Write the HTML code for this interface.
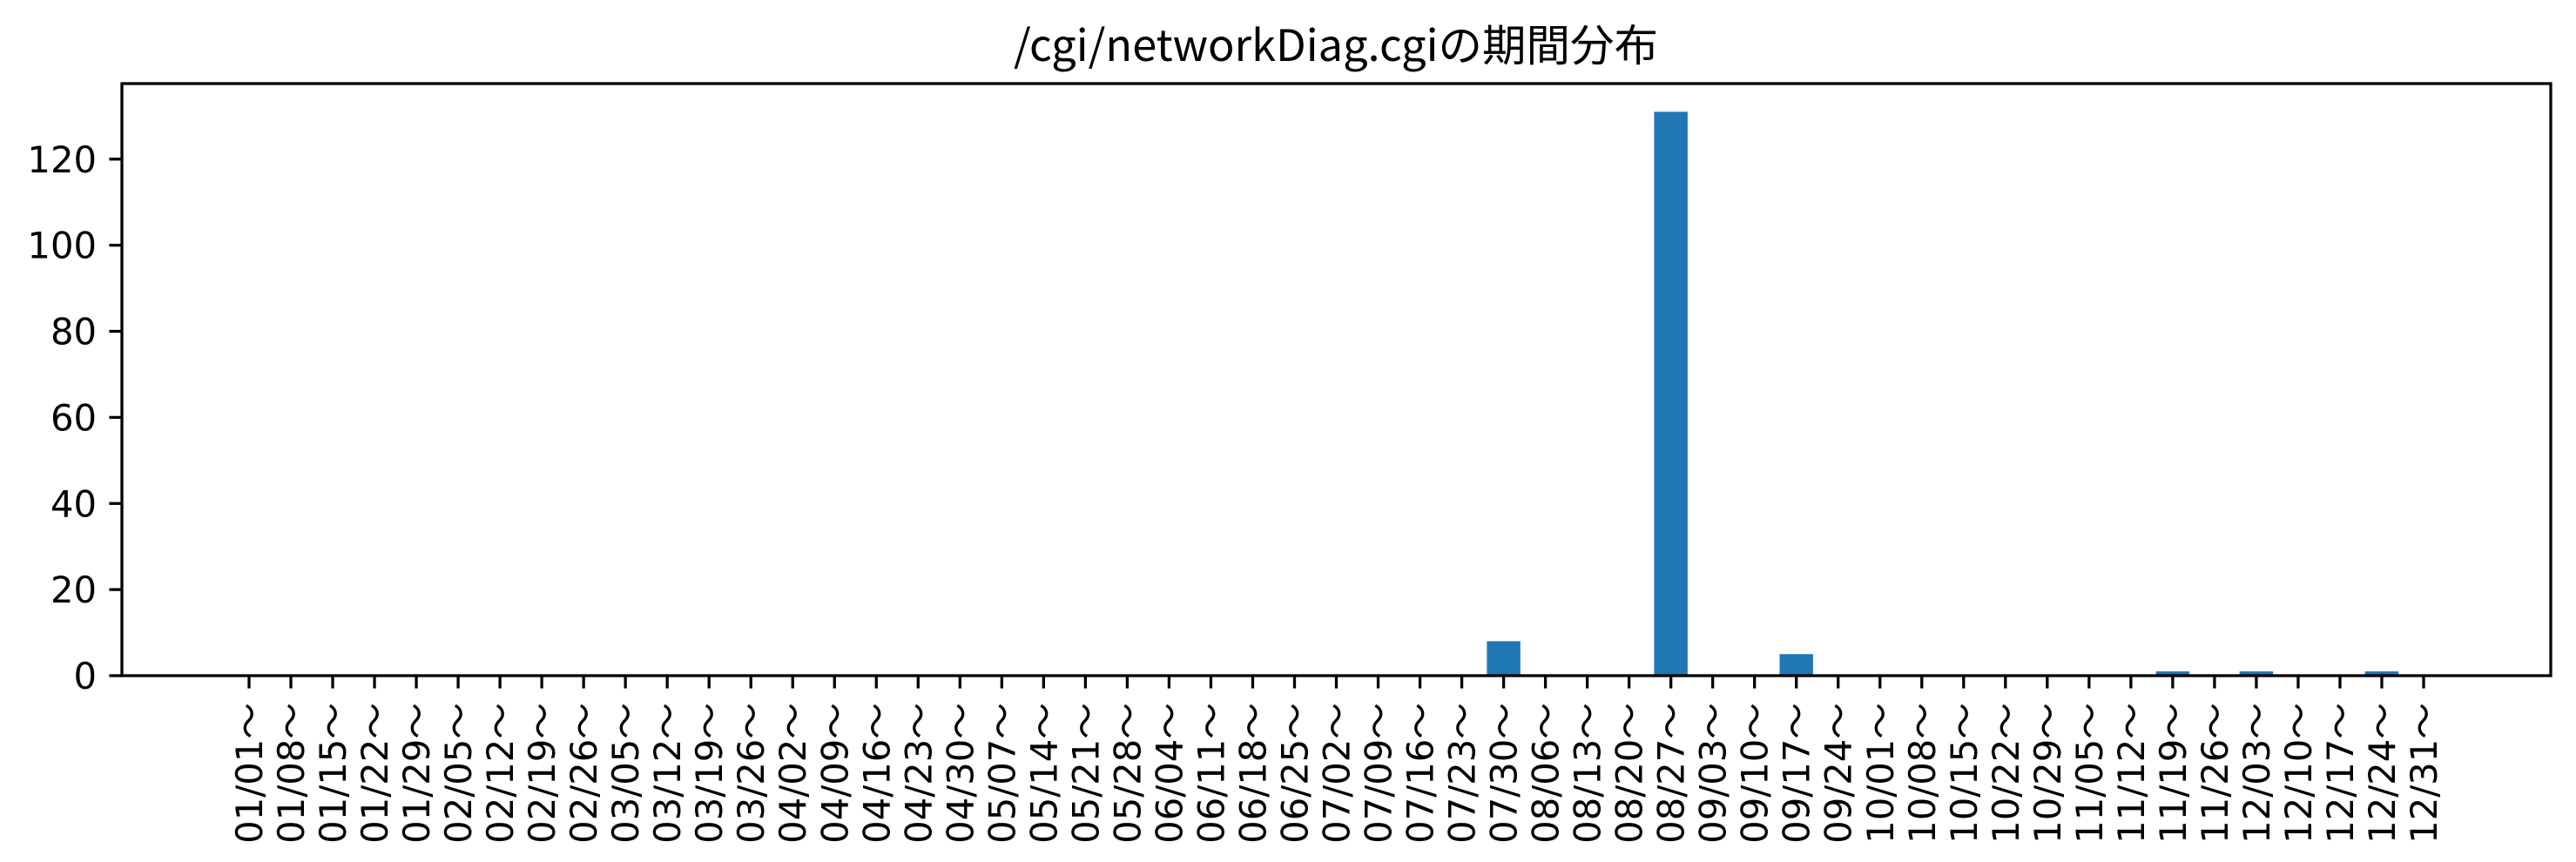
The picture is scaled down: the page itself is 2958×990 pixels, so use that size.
<!DOCTYPE html>
<html><head><meta charset="utf-8"><style>body{margin:0;background:#fff}svg{display:block}</style></head>
<body>
<svg id="chart" width="2958" height="990" xmlns="http://www.w3.org/2000/svg">
<rect width="2958" height="990" fill="#fff"/>
<text x="1534" y="70" text-anchor="middle" font-size="50" textLength="740" lengthAdjust="spacingAndGlyphs" font-family="'Noto Sans CJK JP', sans-serif" fill="#000">/cgi/networkDiag.cgiの期間分布</text>
<g id="bars"></g>
<g id="yaxis"></g>
<g id="xaxis"></g>
<rect x="140" y="96" width="2789" height="680" fill="none" stroke="#000" stroke-width="3.3"/>
</svg>
<script>
const categories = ["01/01","01/08","01/15","01/22","01/29","02/05","02/12","02/19","02/26","03/05","03/12","03/19","03/26","04/02","04/09","04/16","04/23","04/30","05/07","05/14","05/21","05/28","06/04","06/11","06/18","06/25","07/02","07/09","07/16","07/23","07/30","08/06","08/13","08/20","08/27","09/03","09/10","09/17","09/24","10/01","10/08","10/15","10/22","10/29","11/05","11/12","11/19","11/26","12/03","12/10","12/17","12/24","12/31"];
const counts = [0,0,0,0,0,0,0,0,0,0,0,0,0,0,0,0,0,0,0,0,0,0,0,0,0,0,0,0,0,0,8,0,0,0,131,0,0,5,0,0,0,0,0,0,0,0,1,0,1,0,0,1,0];
const yTicks = [0,20,40,60,80,100,120];

const NS = "http://www.w3.org/2000/svg";
const L = 140, R = 2929, T = 96, B = 776;
const n = categories.length;
const xmin = -0.4 - 0.05 * (n - 1 + 0.8), xmax = (n - 1) + 0.4 + 0.05 * (n - 1 + 0.8);
const maxV = Math.max(...counts);
const ymax = maxV * 1.05;
function x(i) { return L + (i - xmin) / (xmax - xmin) * (R - L); }
function y(v) { return B - v / ymax * (B - T); }
function mk(tag, attrs) { const e = document.createElementNS(NS, tag); for (const k in attrs) e.setAttribute(k, attrs[k]); return e; }

const bars = document.getElementById('bars');
counts.forEach((v, i) => {
  const bw = x(0.8) - x(0);
  const r = mk('rect', { x: x(i) - bw / 2, y: y(v), width: bw, height: B - y(v), fill: '#1f77b4' });
  
  
  bars.appendChild(r);
});

const ya = document.getElementById('yaxis');
yTicks.forEach(t => {
  const ln = mk('line', { x1: L - 14.6, x2: L, y1: y(t), y2: y(t), stroke: '#000', 'stroke-width': 3.3 });
  
  
  ya.appendChild(ln);
  const tx = mk('text', { x: L - 29, y: y(t) + 15, 'text-anchor': 'end', 'font-size': 41.7, 'font-family': "'DejaVu Sans', sans-serif", fill: '#000' });
  tx.textContent = t;
  
  
  ya.appendChild(tx);
});

const xa = document.getElementById('xaxis');
categories.forEach((c, i) => {
  const xi = x(i);
  const ln = mk('line', { x1: xi, x2: xi, y1: B, y2: B + 14.6, stroke: '#000', 'stroke-width': 3.3 });
  
  
  xa.appendChild(ln);
  const tx = mk('text', { x: 0, y: 0, 'text-anchor': 'end', 'font-size': 41.7, 'font-family': "'DejaVu Sans', 'Noto Sans CJK JP', sans-serif", fill: '#000', transform: `translate(${xi + 15},${B + 31}) rotate(-90)` });
  tx.textContent = c + '～';
  
  
  xa.appendChild(tx);
});
</script>
</body></html>
